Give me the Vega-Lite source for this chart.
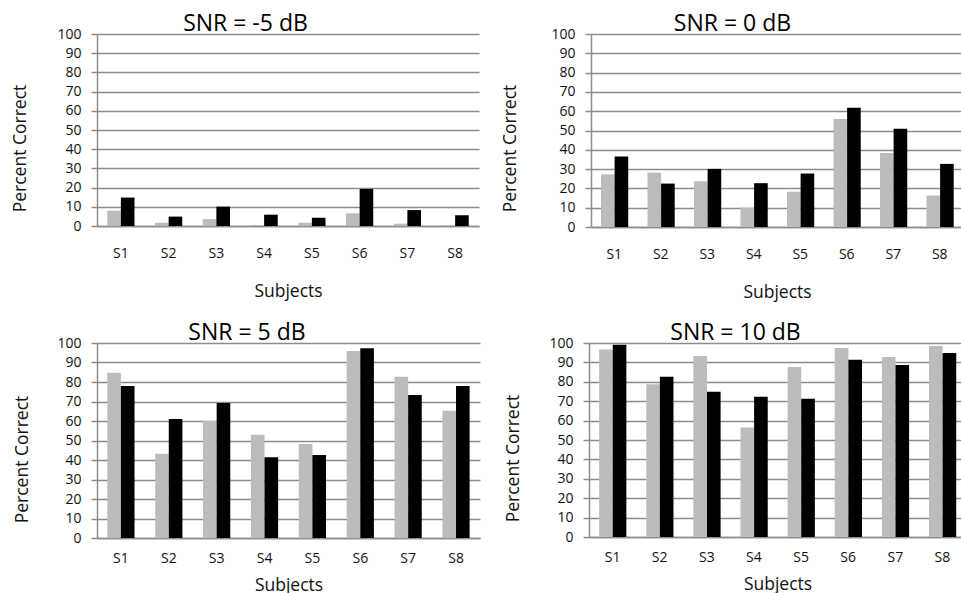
{
  "$schema": "https://vega.github.io/schema/vega-lite/v6.json",
  "background": "white",
  "padding": {"left": 11, "top": 13, "right": 0, "bottom": 0},
  "spacing": 21,
  "datasets": {
    "d": [
      {"snr": "-5", "subject": "S1", "cond": "Condition 1", "pct": 8.0},
      {"snr": "-5", "subject": "S1", "cond": "Condition 2", "pct": 14.8},
      {"snr": "-5", "subject": "S2", "cond": "Condition 1", "pct": 1.7},
      {"snr": "-5", "subject": "S2", "cond": "Condition 2", "pct": 4.9},
      {"snr": "-5", "subject": "S3", "cond": "Condition 1", "pct": 3.6},
      {"snr": "-5", "subject": "S3", "cond": "Condition 2", "pct": 10.1},
      {"snr": "-5", "subject": "S4", "cond": "Condition 1", "pct": 0.5},
      {"snr": "-5", "subject": "S4", "cond": "Condition 2", "pct": 5.9},
      {"snr": "-5", "subject": "S5", "cond": "Condition 1", "pct": 1.7},
      {"snr": "-5", "subject": "S5", "cond": "Condition 2", "pct": 4.3},
      {"snr": "-5", "subject": "S6", "cond": "Condition 1", "pct": 6.6},
      {"snr": "-5", "subject": "S6", "cond": "Condition 2", "pct": 19.3},
      {"snr": "-5", "subject": "S7", "cond": "Condition 1", "pct": 1.2},
      {"snr": "-5", "subject": "S7", "cond": "Condition 2", "pct": 8.3},
      {"snr": "-5", "subject": "S8", "cond": "Condition 1", "pct": 0.3},
      {"snr": "-5", "subject": "S8", "cond": "Condition 2", "pct": 5.6},
      {"snr": "0", "subject": "S1", "cond": "Condition 1", "pct": 27.3},
      {"snr": "0", "subject": "S1", "cond": "Condition 2", "pct": 36.5},
      {"snr": "0", "subject": "S2", "cond": "Condition 1", "pct": 28.2},
      {"snr": "0", "subject": "S2", "cond": "Condition 2", "pct": 22.5},
      {"snr": "0", "subject": "S3", "cond": "Condition 1", "pct": 23.7},
      {"snr": "0", "subject": "S3", "cond": "Condition 2", "pct": 30.1},
      {"snr": "0", "subject": "S4", "cond": "Condition 1", "pct": 10.0},
      {"snr": "0", "subject": "S4", "cond": "Condition 2", "pct": 22.7},
      {"snr": "0", "subject": "S5", "cond": "Condition 1", "pct": 18.3},
      {"snr": "0", "subject": "S5", "cond": "Condition 2", "pct": 27.7},
      {"snr": "0", "subject": "S6", "cond": "Condition 1", "pct": 55.9},
      {"snr": "0", "subject": "S6", "cond": "Condition 2", "pct": 61.8},
      {"snr": "0", "subject": "S7", "cond": "Condition 1", "pct": 38.4},
      {"snr": "0", "subject": "S7", "cond": "Condition 2", "pct": 50.9},
      {"snr": "0", "subject": "S8", "cond": "Condition 1", "pct": 16.3},
      {"snr": "0", "subject": "S8", "cond": "Condition 2", "pct": 32.7},
      {"snr": "5", "subject": "S1", "cond": "Condition 1", "pct": 84.8},
      {"snr": "5", "subject": "S1", "cond": "Condition 2", "pct": 77.9},
      {"snr": "5", "subject": "S2", "cond": "Condition 1", "pct": 43.2},
      {"snr": "5", "subject": "S2", "cond": "Condition 2", "pct": 61.0},
      {"snr": "5", "subject": "S3", "cond": "Condition 1", "pct": 60.0},
      {"snr": "5", "subject": "S3", "cond": "Condition 2", "pct": 69.2},
      {"snr": "5", "subject": "S4", "cond": "Condition 1", "pct": 53.0},
      {"snr": "5", "subject": "S4", "cond": "Condition 2", "pct": 41.4},
      {"snr": "5", "subject": "S5", "cond": "Condition 1", "pct": 48.2},
      {"snr": "5", "subject": "S5", "cond": "Condition 2", "pct": 42.6},
      {"snr": "5", "subject": "S6", "cond": "Condition 1", "pct": 95.9},
      {"snr": "5", "subject": "S6", "cond": "Condition 2", "pct": 97.3},
      {"snr": "5", "subject": "S7", "cond": "Condition 1", "pct": 82.7},
      {"snr": "5", "subject": "S7", "cond": "Condition 2", "pct": 73.3},
      {"snr": "5", "subject": "S8", "cond": "Condition 1", "pct": 65.3},
      {"snr": "5", "subject": "S8", "cond": "Condition 2", "pct": 77.9},
      {"snr": "10", "subject": "S1", "cond": "Condition 1", "pct": 96.6},
      {"snr": "10", "subject": "S1", "cond": "Condition 2", "pct": 99.1},
      {"snr": "10", "subject": "S2", "cond": "Condition 1", "pct": 78.7},
      {"snr": "10", "subject": "S2", "cond": "Condition 2", "pct": 82.6},
      {"snr": "10", "subject": "S3", "cond": "Condition 1", "pct": 93.3},
      {"snr": "10", "subject": "S3", "cond": "Condition 2", "pct": 74.9},
      {"snr": "10", "subject": "S4", "cond": "Condition 1", "pct": 56.4},
      {"snr": "10", "subject": "S4", "cond": "Condition 2", "pct": 72.3},
      {"snr": "10", "subject": "S5", "cond": "Condition 1", "pct": 87.6},
      {"snr": "10", "subject": "S5", "cond": "Condition 2", "pct": 71.3},
      {"snr": "10", "subject": "S6", "cond": "Condition 1", "pct": 97.4},
      {"snr": "10", "subject": "S6", "cond": "Condition 2", "pct": 91.4},
      {"snr": "10", "subject": "S7", "cond": "Condition 1", "pct": 92.8},
      {"snr": "10", "subject": "S7", "cond": "Condition 2", "pct": 88.7},
      {"snr": "10", "subject": "S8", "cond": "Condition 1", "pct": 98.5},
      {"snr": "10", "subject": "S8", "cond": "Condition 2", "pct": 94.8}
    ]
  },
  "config": {
    "font": "Open Sans",
    "view": {"stroke": null},
    "title": {"fontSize": 23, "fontWeight": "normal", "color": "#000", "offset": -9, "baseline": "alphabetic", "anchor": "middle", "frame": "bounds"},
    "axis": {
      "domainColor": "#8c8c8c", "domainWidth": 1.5,
      "tickColor": "#8c8c8c", "tickWidth": 1.5,
      "gridColor": "#8c8c8c", "gridWidth": 1.5,
      "labelColor": "#111", "titleColor": "#111",
      "labelFontSize": 14, "titleFontSize": 17.5, "titleFontWeight": "normal"
    },
    "axisX": {"ticks": false, "grid": false, "labelAngle": 0, "labelFontSize": 14},
    "axisY": {"tickSize": 6, "labelPadding": 10, "titlePadding": 27, "labelOverlap": false, "tickCount": 12, "labelFontSize": 14},
    "bar": {"stroke": null}
  },
  "vconcat": [
    {
      "spacing": 22,
      "hconcat": [
        {
          "width": 382, "height": 192,
          "title": "SNR = -5 dB",
          "data": {"name": "d"},
          "transform": [{"filter": "datum.snr == '-5'"}],
          "mark": "bar",
          "encoding": {
            "x": {"field": "subject", "type": "nominal", "scale": {"paddingInner": 0.43, "paddingOuter": 0.215}, "axis": {"title": "Subjects", "labelPadding": 20, "titlePadding": 22}},
            "xOffset": {"field": "cond", "type": "nominal"},
            "y": {"field": "pct", "type": "quantitative", "scale": {"domain": [0, 100]}, "axis": {"title": "Percent  Correct", "titleY": 114, "tickCount": 12, "values": [0,10,20,30,40,50,60,70,80,90,100]}},
            "color": {"field": "cond", "type": "nominal", "scale": {"range": ["#bcbcbc", "#000000"]}, "legend": null}
          }
        },
        {
          "width": 372, "height": 193,
          "title": "SNR = 0 dB",
          "data": {"name": "d"},
          "transform": [{"filter": "datum.snr == '0'"}],
          "mark": "bar",
          "encoding": {
            "x": {"field": "subject", "type": "nominal", "scale": {"paddingInner": 0.43, "paddingOuter": 0.215}, "axis": {"title": "Subjects", "labelPadding": 20, "titlePadding": 22}},
            "xOffset": {"field": "cond", "type": "nominal"},
            "y": {"field": "pct", "type": "quantitative", "scale": {"domain": [0, 100]}, "axis": {"title": "Percent  Correct", "titleY": 114, "titlePadding": 31, "tickCount": 12, "values": [0,10,20,30,40,50,60,70,80,90,100]}},
            "color": {"field": "cond", "type": "nominal", "scale": {"range": ["#bcbcbc", "#000000"]}, "legend": null}
          }
        }
      ]
    },
    {
      "spacing": 24,
      "hconcat": [
        {
          "width": 383, "height": 195,
          "title": "SNR = 5 dB",
          "data": {"name": "d"},
          "transform": [{"filter": "datum.snr == '5'"}],
          "mark": "bar",
          "encoding": {
            "x": {"field": "subject", "type": "nominal", "scale": {"paddingInner": 0.43, "paddingOuter": 0.215}, "axis": {"title": "Subjects", "labelPadding": 13, "titlePadding": 11}},
            "xOffset": {"field": "cond", "type": "nominal"},
            "y": {"field": "pct", "type": "quantitative", "scale": {"domain": [0, 100]}, "axis": {"title": "Percent  Correct", "titleY": 116, "titlePadding": 25, "tickCount": 12, "values": [0,10,20,30,40,50,60,70,80,90,100]}},
            "color": {"field": "cond", "type": "nominal", "scale": {"range": ["#bcbcbc", "#000000"]}, "legend": null}
          }
        },
        {
          "width": 377, "height": 194,
          "title": "SNR = 10 dB",
          "data": {"name": "d"},
          "transform": [{"filter": "datum.snr == '10'"}],
          "mark": "bar",
          "encoding": {
            "x": {"field": "subject", "type": "nominal", "scale": {"paddingInner": 0.43, "paddingOuter": 0.215}, "axis": {"title": "Subjects", "labelPadding": 13, "titlePadding": 11}},
            "xOffset": {"field": "cond", "type": "nominal"},
            "y": {"field": "pct", "type": "quantitative", "scale": {"domain": [0, 100]}, "axis": {"title": "Percent  Correct", "titleY": 115, "titlePadding": 26, "tickCount": 12, "values": [0,10,20,30,40,50,60,70,80,90,100]}},
            "color": {"field": "cond", "type": "nominal", "scale": {"range": ["#bcbcbc", "#000000"]}, "legend": null}
          }
        }
      ]
    }
  ]
}
